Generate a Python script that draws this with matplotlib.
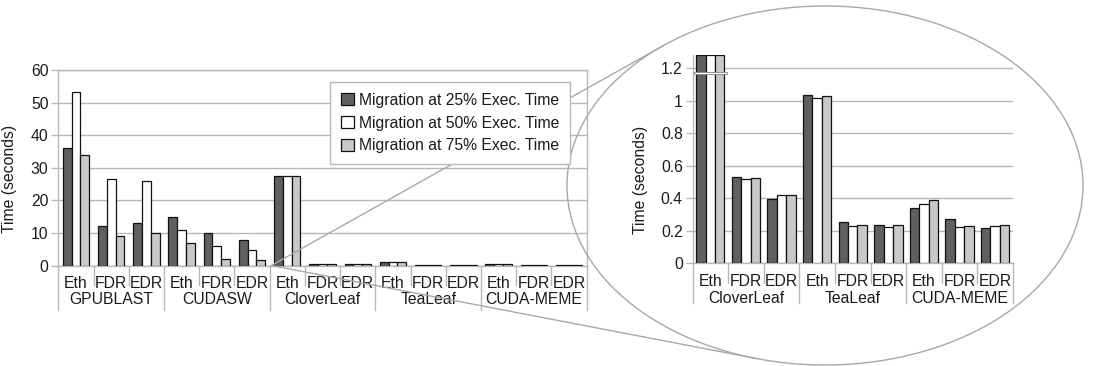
import numpy as np
import matplotlib
matplotlib.use("Agg")
import matplotlib.pyplot as plt
import matplotlib.transforms as mtrans
from matplotlib.patches import Ellipse, Rectangle
from matplotlib.lines import Line2D
from matplotlib.ticker import FuncFormatter

plt.rcParams['font.family'] = ['Liberation Sans', 'DejaVu Sans']

# Execution time (s) per benchmark / interconnect, for three migration points
groups = ["GPUBLAST", "CUDASW", "CloverLeaf", "TeaLeaf", "CUDA-MEME"]
networks = ["Eth", "FDR", "EDR"]
mig25 = [36.2, 12.0, 13.1, 14.9, 10.0, 7.8, 27.6, 0.533, 0.396, 1.038, 0.256, 0.234, 0.34, 0.275, 0.215]
mig50 = [53.2, 26.5, 25.9, 11.0, 6.0, 4.8, 27.6, 0.52, 0.418, 1.017, 0.232, 0.226, 0.363, 0.222, 0.23]
mig75 = [33.8, 9.0, 9.9, 6.9, 2.1, 1.8, 27.6, 0.525, 0.42, 1.03, 0.234, 0.236, 0.39, 0.232, 0.238]
labels = ["Migration at 25% Exec. Time", "Migration at 50% Exec. Time", "Migration at 75% Exec. Time"]
colors = ["#606060", "#ffffff", "#c8c8c8"]

W, H = 1094, 366
GRID = "#b8b8b8"
TXT = "#1a1a1a"
FS = 11.3

fig = plt.figure(figsize=(W / 100, H / 100), dpi=100)


def box(l, t, r, b):
    return [l / W, 1 - b / H, (r - l) / W, (b - t) / H]


def style(ax):
    ax.yaxis.grid(True, color=GRID, lw=1)
    ax.set_axisbelow(True)
    ax.tick_params(axis='y', length=5, color=GRID, width=1, labelsize=FS, labelcolor=TXT, pad=2)
    ax.set_xticks([])
    for s in ax.spines.values():
        s.set_color(GRID)
        s.set_linewidth(1)


def xlabels(ax, nsub, y_sub, y_grp, y_short, y_long, ax_bottom):
    tr = mtrans.blended_transform_factory(ax.transData, fig.transFigure)
    for i in range(nsub):
        ax.text(i, 1 - y_sub / H, networks[i % 3], transform=tr, ha='center', va='center',
                fontsize=FS, color=TXT)
    ngrp = nsub // 3
    first = len(groups) - ngrp
    for g in range(ngrp):
        ax.text(3 * g + 1, 1 - y_grp / H, groups[first + g], transform=tr, ha='center',
                va='center', fontsize=FS, color=TXT)
    for i in range(nsub + 1):
        yb = y_long if i % 3 == 0 else y_short
        ax.add_line(Line2D([i - 0.5, i - 0.5], [1 - ax_bottom / H, 1 - yb / H], transform=tr,
                           color=GRID, lw=1, clip_on=False))


# ---- full chart ----
ax1 = fig.add_axes(box(58.3, 70, 586.7, 265.5))
x1 = np.arange(len(mig25))
bars = []
for k, (vals, c) in enumerate(zip([mig25, mig50, mig75], colors)):
    b = ax1.bar(x1 + (k - 1) * 0.25, vals, 0.25, color=c, edgecolor="#111111", lw=0.9, zorder=3)
    bars.append(b)
ax1.set_xlim(-0.5, len(x1) - 0.5)
ax1.set_ylim(0, 60)
ax1.set_yticks(np.arange(0, 61, 10))
style(ax1)
ax1.set_ylabel("Time (seconds)", fontsize=FS, color=TXT)
ax1.yaxis.set_label_coords(-0.078, 0.442)
xlabels(ax1, 15, 283, 300, 285, 310, 265.5)

# ---- zoomed chart for the small benchmarks ----
CUT = 1.28
ax2 = fig.add_axes(box(692.5, 55.3, 1013, 263.3))
sub25, sub50, sub75 = mig25[6:], mig50[6:], mig75[6:]
x2 = np.arange(len(sub25))
for k, (vals, c) in enumerate(zip([sub25, sub50, sub75], colors)):
    ax2.bar(x2 + (k - 1) * 0.265, np.minimum(vals, CUT), 0.265, color=c,
            edgecolor="#111111", lw=0.9, zorder=3)
ax2.set_xlim(-0.5, len(x2) - 0.5)
ax2.set_ylim(0, CUT)
ax2.set_yticks(np.arange(0, 1.21, 0.2))
ax2.yaxis.set_major_formatter(FuncFormatter(lambda v, p: "%g" % round(v, 1)))
style(ax2)
ax2.spines['top'].set_visible(False)
ax2.spines['right'].set_visible(False)
ax2.set_ylabel("Time (seconds)", fontsize=FS, color=TXT)
ax2.yaxis.set_label_coords(-0.139, 0.403)
xlabels(ax2, 9, 281.7, 298.3, 283, 303, 263.3)

# axis break on the truncated CloverLeaf/Eth bars
ax2.add_patch(Rectangle((-0.46, 1.163), 0.93, 0.016, facecolor="white", edgecolor="#909090",
                        lw=0.7, zorder=5, clip_on=False))

# ---- magnifier ellipse and its tangent lines ----
cx, cy, a, b = 825.0, H - 185.5, 258.0, 179.5
fig.add_artist(Ellipse((cx / W, cy / H), 2 * a / W, 2 * b / H, transform=fig.transFigure,
                       fill=False, edgecolor="#a8a8a8", lw=1))
sx, sy = ax1.transData.transform((5.55, 0))
px, py = (sx - cx) / a, (sy - cy) / b
r = np.hypot(px, py)
base = np.arctan2(py, px)
d = np.arccos(1 / r)
for th in (base + d, base - d):
    tx, ty = cx + a * np.cos(th), cy + b * np.sin(th)
    fig.add_artist(Line2D([sx / W, tx / W], [sy / H, ty / H], transform=fig.transFigure,
                          color="#a8a8a8", lw=1))

leg = fig.legend(bars, labels, loc='upper right', bbox_to_anchor=(570 / W, 1 - 81.7 / H),
                 bbox_transform=fig.transFigure, fancybox=False, edgecolor=GRID, framealpha=1,
                 borderaxespad=0, handlelength=0.8, handleheight=0.8, handletextpad=0.3,
                 labelspacing=0.5, borderpad=0.7, fontsize=FS)
leg.get_frame().set_linewidth(1)
for t in leg.get_texts():
    t.set_color(TXT)

fig.savefig("out.png", dpi=100)
